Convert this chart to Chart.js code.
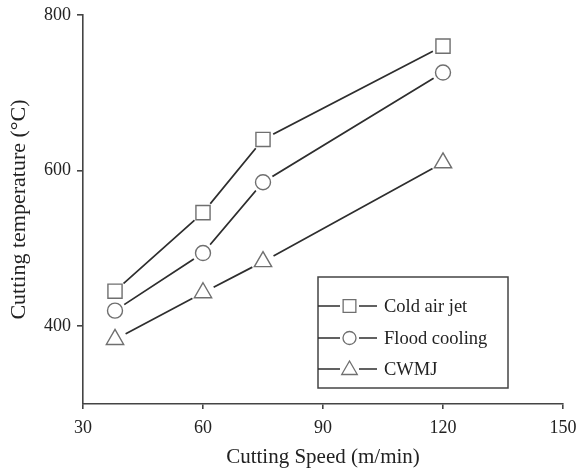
<!DOCTYPE html>
<html>
<head>
<meta charset="utf-8">
<script src="https://cdn.jsdelivr.net/npm/chart.js@4"></script>
<style>
  html, body { margin: 0; padding: 0; background: #fff; }
  #wrap { width: 580px; height: 470px; }
</style>
</head>
<body>
<div id="wrap"><canvas id="c" width="580" height="470"></canvas></div>
<script>
// Cutting speed (m/min)
const speeds = [38, 60, 75, 120];
// Cutting temperature (°C) for each cooling method
const coldAirJet   = [445, 546, 640, 760];
const floodCooling = [420, 494, 585, 726];
const cwmj         = [383, 443, 483, 610];
const seriesNames  = ['Cold air jet', 'Flood cooling', 'CWMJ'];
const xTicks = [30, 60, 90, 120, 150];
const yTicks = [400, 600, 800];

const FONT = '"Liberation Serif", "Times New Roman", serif';
const LINE = '#2e2e2e';
const MARK = '#6f6f6f';
const AXIS = '#444444';

const series = [
  { name: seriesNames[0], values: coldAirJet,   style: 'rect',     r: 10,  mask: 11.5 },
  { name: seriesNames[1], values: floodCooling, style: 'circle',   r: 7.5, mask: 11 },
  { name: seriesNames[2], values: cwmj,         style: 'triangle', r: 10,  mask: 12 }
];

const toPts = vals => speeds.map((s, i) => ({ x: s, y: vals[i] }));

const datasets = [];
// connecting lines, with white discs at the vertices so the lines stop short of the markers
series.forEach(s => datasets.push({
  label: s.name,
  data: toPts(s.values),
  borderColor: LINE,
  borderWidth: 1.7,
  showLine: true,
  pointRadius: s.mask,
  pointBackgroundColor: '#fff',
  pointBorderColor: '#fff',
  pointBorderWidth: 0,
  order: 2
}));
// hollow markers
series.forEach(s => datasets.push({
  label: s.name,
  data: toPts(s.values),
  showLine: false,
  pointStyle: s.style,
  pointRadius: s.r,
  pointBackgroundColor: 'rgba(255,255,255,0)',
  pointBorderColor: MARK,
  pointBorderWidth: 1.4,
  order: 1
}));

function drawMarker(ctx, style, x, y, r) {
  ctx.beginPath();
  if (style === 'rect') {
    const h = r * Math.SQRT1_2;
    ctx.rect(x - h, y - h, 2 * h, 2 * h);
  } else if (style === 'circle') {
    ctx.arc(x, y, r, 0, Math.PI * 2);
  } else {
    ctx.moveTo(x, y - r);
    ctx.lineTo(x + Math.cos(Math.PI / 6) * r, y + r / 2);
    ctx.lineTo(x - Math.cos(Math.PI / 6) * r, y + r / 2);
    ctx.closePath();
  }
  ctx.stroke();
}

// Boxed legend inside the plot, lower right
const boxLegend = {
  id: 'boxLegend',
  afterDraw(chart) {
    const ctx = chart.ctx;
    const x0 = 318, y0 = 277, x1 = 508, y1 = 388;
    ctx.save();
    ctx.strokeStyle = AXIS;
    ctx.lineWidth = 1.5;
    ctx.strokeRect(x0, y0, x1 - x0, y1 - y0);
    const rows = [306, 338, 369];
    const sizes = [9, 6.5, 9];
    series.forEach((s, i) => {
      const y = rows[i];
      ctx.strokeStyle = LINE;
      ctx.lineWidth = 1.7;
      ctx.beginPath();
      ctx.moveTo(x0, y); ctx.lineTo(340, y);
      ctx.moveTo(359, y); ctx.lineTo(377, y);
      ctx.stroke();
      ctx.strokeStyle = MARK;
      ctx.lineWidth = 1.3;
      drawMarker(ctx, s.style, 349.5, s.style === 'triangle' ? y + 1 : y, sizes[i]);
      ctx.fillStyle = '#222';
      ctx.font = '18.5px ' + FONT;
      ctx.textBaseline = 'middle';
      ctx.textAlign = 'left';
      ctx.fillText(s.name, 384, y + 1);
    });
    ctx.restore();
  }
};

new Chart(document.getElementById('c'), {
  type: 'scatter',
  data: { datasets },
  plugins: [boxLegend],
  options: {
    responsive: false,
    animation: false,
    events: [],
    layout: { padding: { top: 15, right: 17, left: 0, bottom: 0 } },
    plugins: { legend: { display: false }, tooltip: { enabled: false } },
    scales: {
      x: {
        type: 'linear',
        min: 30, max: 150,
        afterBuildTicks: sc => { sc.ticks = xTicks.map(v => ({ value: v })); },
        afterFit: sc => { sc.height = 66; sc.paddingLeft = 0; sc.paddingRight = 0; },
        border: { color: AXIS, width: 1.6 },
        grid: { drawOnChartArea: false, tickLength: 5, color: AXIS, lineWidth: 1.6 },
        ticks: { color: '#222', font: { family: FONT, size: 18 }, padding: 8 },
        title: { display: true, text: 'Cutting Speed (m/min)', color: '#222',
                 font: { family: FONT, size: 21 }, padding: { top: 0, bottom: 0 } }
      },
      y: {
        type: 'linear',
        min: 300, max: 800,
        afterBuildTicks: sc => { sc.ticks = yTicks.map(v => ({ value: v })); },
        afterFit: sc => { sc.width = 83; sc.paddingTop = 0; sc.paddingBottom = 0; },
        border: { color: AXIS, width: 1.6 },
        grid: { drawOnChartArea: false, tickLength: 6, color: AXIS, lineWidth: 1.6 },
        ticks: { color: '#222', font: { family: FONT, size: 18 }, padding: 6 },
        title: { display: true, text: 'Cutting temperature (°C)', color: '#222',
                 font: { family: FONT, size: 22 }, padding: { top: 6, bottom: 0 } }
      }
    }
  }
});
</script>
</body>
</html>
